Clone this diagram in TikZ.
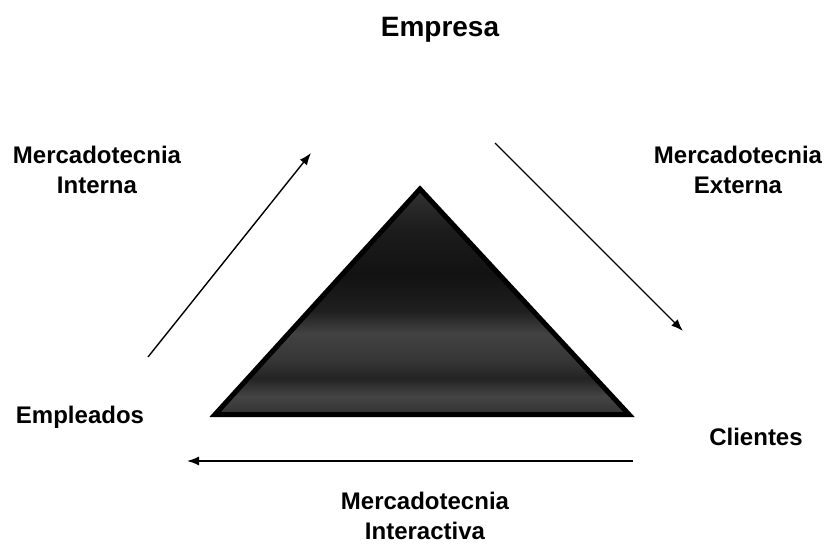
\documentclass[tikz,border=0pt]{standalone}
\usepackage{fontspec}
\setmainfont{Liberation Sans}
\usetikzlibrary{
arrows.meta
}
\pgfdeclareverticalshading{pyramidshade}{100bp}{
color(0bp)=(black!80); color(25bp)=(black!80); color(29bp)=(black!73);
color(33bp)=(black!86); color(37bp)=(black!79); color(43bp)=(black!74);
color(48bp)=(black!88); color(56bp)=(black!93); color(66bp)=(black!89);
color(75bp)=(black!80); color(100bp)=(black!80)}
\tikzset{
label/.style={
font=\bfseries\fontsize{24}{30}\selectfont,
align=center,
inner sep=0pt
},
title/.style={
font=\bfseries\fontsize{28}{34}\selectfont,
inner sep=0pt
},
arrow/.style={
-{Latex[length=12pt,width=9pt]},
line width=1.4pt
},
pyramid/.style={
draw=black,
line width=5pt,
line join=miter,
shading=pyramidshade
}
}
\begin{document}
\begin{tikzpicture}[x=1pt,y=-1pt]
\useasboundingbox (0,0) rectangle (825,548);

% labels
\node[title] (empresa) at (440,30) {Empresa};
\node[label] (interna) at (97,170) {Mercadotecnia\\Interna};
\node[label] (externa) at (738,170) {Mercadotecnia\\Externa};
\node[label] (empleados) at (80,417) {Empleados};
\node[label] (clientes) at (756,437) {Clientes};
\node[label] (interactiva) at (425,516) {Mercadotecnia\\Interactiva};

% pyramid
\coordinate (apex) at (420,189);
\coordinate (baseL) at (215,414.5);
\coordinate (baseR) at (629,414.5);
\path[pyramid] (apex) -- (baseR) -- (baseL) -- cycle;

% arrows
\coordinate (intS) at (148,357);
\coordinate (intE) at (311,153);
\coordinate (extS) at (495,143);
\coordinate (extE) at (683,331);
\coordinate (iacS) at (633,461);
\coordinate (iacE) at (187,461);

\draw[arrow] (intS) -- (intE);
\draw[arrow] (extS) -- (extE);
\draw[arrow] (iacS) -- (iacE);
\end{tikzpicture}
\end{document}
